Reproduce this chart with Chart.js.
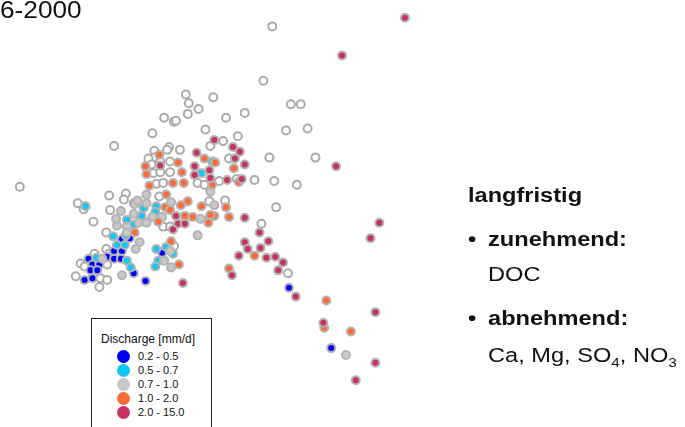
<!DOCTYPE html>
<html>
<head>
<meta charset="utf-8">
<script src="https://cdn.jsdelivr.net/npm/chart.js@4.4.1/dist/chart.umd.min.js"></script>
<style>
  html, body { margin: 0; padding: 0; background: #fff; }
  body { width: 685px; height: 427px; position: relative; overflow: hidden;
         font-family: "Liberation Sans", Arial, sans-serif; color: #111; }
  #plot { position: absolute; left: 0; top: 0; }
  .txt { position: absolute; line-height: 1; white-space: nowrap; transform-origin: 0 0; }
  .big { font-size: 20px; transform: scaleX(1.18); }
  .b { font-weight: bold; }
  sub { font-size: 13px; vertical-align: -5px; line-height: 0; }
  #legend { position: absolute; left: 91px; top: 318px; width: 119px; height: 130px;
            border: 1px solid #222; background: #fff; }
  #legend .title { position: absolute; left: 9px; top: 14px; font-size: 12px; line-height: 1; white-space: nowrap; }
  #legend .item { position: absolute; left: 25px; width: 90px; height: 12px; }
  #legend .dot { position: absolute; left: 0; top: 0; width: 13px; height: 13px; border-radius: 50%; }
  #legend .lab { position: absolute; left: 21px; top: 1px; font-size: 11px; line-height: 1; white-space: nowrap; }
</style>
</head>
<body>
<canvas id="plot" width="685" height="427"></canvas>

<div class="txt" style="left:0;top:-1px;font-size:23px;transform:scaleX(1.14)">6-2000</div>

<div class="txt big b" style="left:468px;top:185px">langfristig</div>
<div class="txt big b" style="left:468px;top:229px">•</div>
<div class="txt big b" style="left:488px;top:229px">zunehmend:</div>
<div class="txt big" style="left:488px;top:264px">DOC</div>
<div class="txt big b" style="left:468px;top:308px">•</div>
<div class="txt big b" style="left:488px;top:308px">abnehmend:</div>
<div class="txt big" style="left:488px;top:345px">Ca, Mg, SO<sub>4</sub>, NO<sub>3</sub></div>

<div id="legend"><div class="title">Discharge [mm/d]</div></div>

<script>
// site scores on the two ordination axes, grouped by discharge class
const openSites = [
  [14,186],[271,21],[262,77],[290,101],[300,101],[211,94],[183,91],[186,100],[196,106],[185,111],
  [161,115],[171,119],[173,118],[224,115],[243,110],[203,127],[285,128],[307,126],[149,131],[236,134],
  [110,144],[221,139],[208,144],[268,156],[315,156],[227,157],[166,145],[164,148],[177,148],[151,149],
  [151,156],[145,157],[157,160],[167,160],[148,163],[150,172],[157,171],[167,171],[195,182],[202,184],
  [217,180],[235,178],[253,179],[273,180],[296,184],[153,183],[160,182],[105,195],[122,193],[120,199],
  [156,196],[207,201],[223,200],[275,207],[73,203],[79,209],[106,210],[89,222],[102,233],[160,227],
  [167,227],[260,224],[102,250],[171,247],[76,265],[80,268],[103,266],[90,255],[105,255],[71,278],
  [96,280],[103,282],[95,289],[287,275],[130,203]
];
const q02_05 = [
  [207,218],[118,240],[126,239],[110,252],[118,252],[103,258],[110,260],[117,260],[84,260],[88,266],
  [95,266],[86,272],[93,272],[130,275],[80,282],[88,280],[159,254],[142,283],[288,290],[331,352]
];
const q05_07 = [
  [81,206],[140,208],[153,206],[152,212],[138,216],[123,220],[130,225],[109,237],[122,236],[113,246],
  [121,246],[153,250],[163,248],[170,255],[155,262],[152,268],[123,262],[127,269],[199,172],[210,160],
  [92,259]
];
const q07_10 = [
  [208,191],[143,194],[131,204],[134,200],[143,203],[117,211],[130,214],[168,202],[212,205],[149,217],
  [159,217],[198,219],[195,236],[113,226],[123,227],[135,223],[143,223],[112,219],[123,233],[136,243],
  [132,250],[167,252],[161,262],[168,269],[98,260],[118,277],[346,359]
];
const q10_20 = [
  [202,157],[213,161],[232,167],[237,181],[210,184],[156,153],[175,161],[142,165],[143,173],[179,171],
  [146,185],[170,182],[181,182],[163,194],[185,201],[162,207],[167,210],[178,205],[199,206],[182,216],
  [190,217],[212,216],[224,207],[227,217],[208,215],[206,223],[131,233],[155,222],[168,242],[176,266],
  [227,270],[253,257],[326,303],[324,331],[351,335]
];
const q20_150 = [
  [406,12],[342,51],[336,165],[212,138],[231,145],[238,150],[243,163],[233,157],[194,151],[192,165],
  [207,169],[192,174],[208,177],[225,179],[240,178],[157,164],[173,216],[175,224],[182,224],[170,230],
  [243,218],[180,285],[380,223],[371,239],[258,233],[243,243],[267,242],[246,250],[259,249],[237,257],
  [265,259],[274,258],[282,264],[277,272],[230,277],[295,299],[376,315],[323,326],[376,367],[356,385]
];

const classLabels = ["0.2 - 0.5", "0.5 - 0.7", "0.7 - 1.0", "1.0 - 2.0", "2.0 - 15.0"];
const classColors = ["#0000ff", "#10c8f4", "#c8c8c8", "#fd6a35", "#c8325f"];
const classData = [q02_05, q05_07, q07_10, q10_20, q20_150];

const toPts = arr => arr.map(p => ({ x: p[0], y: p[1] }));

const datasets = [{
  label: "ohne Abfluss",
  data: toPts(openSites),
  backgroundColor: "#ffffff",
  borderColor: "#ababab",
  order: 10
}];
classData.forEach((arr, i) => {
  datasets.push({
    label: classLabels[i],
    data: toPts(arr),
    backgroundColor: classColors[i],
    borderColor: "#b4b4b4",
    order: 5 - i
  });
});

new Chart(document.getElementById("plot"), {
  type: "scatter",
  data: { datasets },
  options: {
    responsive: false,
    animation: false,
    layout: { padding: 0 },
    elements: { point: { radius: 4, borderWidth: 2, hoverRadius: 4 } },
    scales: {
      x: { type: "linear", display: false, min: 0, max: 685 },
      y: { type: "linear", display: false, min: 0, max: 427, reverse: true }
    },
    plugins: { legend: { display: false }, tooltip: { enabled: false } }
  }
});

// legend box
const legend = document.getElementById("legend");
classLabels.forEach((lab, i) => {
  const item = document.createElement("div");
  item.className = "item";
  item.style.top = (31 + i * 14) + "px";
  item.innerHTML = `<div class="dot" style="background:${classColors[i]}"></div><div class="lab">${lab}</div>`;
  legend.appendChild(item);
});
</script>
</body>
</html>
